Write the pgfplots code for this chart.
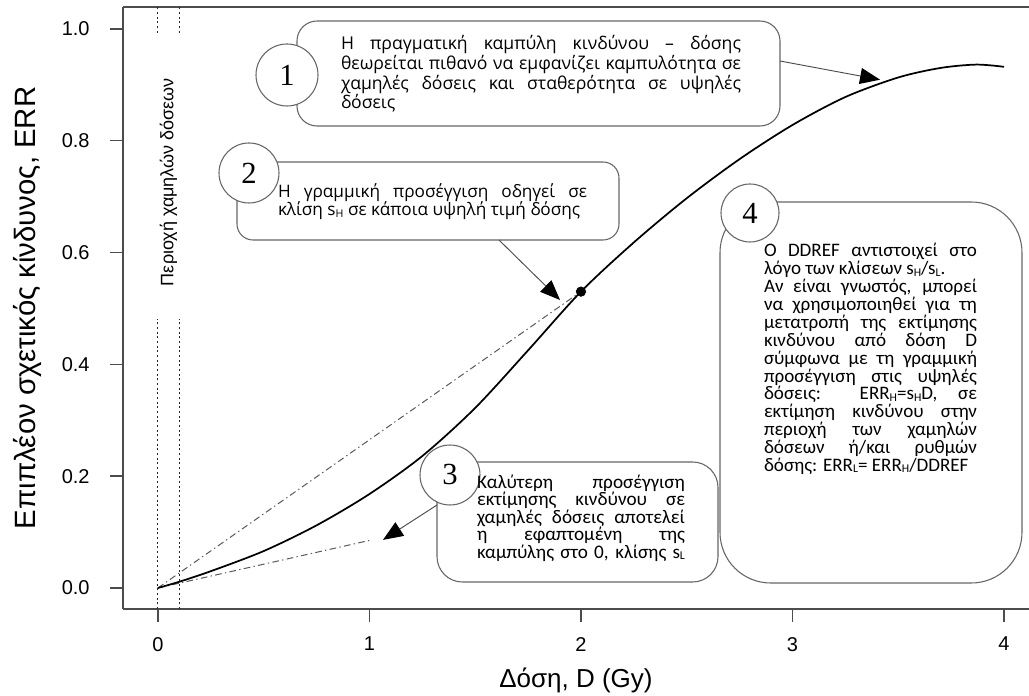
\documentclass[border=0pt]{standalone}
\usepackage{pgfplots}
\pgfplotsset{compat=1.18}
\usepackage{fontspec}
\setmainfont{Liberation Sans}
\newfontfamily\boxfont{Open Sans}
\newfontfamily\boxfontb{Carlito}
\newfontfamily\numfont{Liberation Serif}
\usetikzlibrary{arrows.meta}
\newcommand{\jl}[2]{\makebox[#1][s]{#2}}
\newcommand{\sbs}[1]{\raisebox{-0.15ex}{\scalebox{0.62}{#1}}}
\begin{document}
\begin{tikzpicture}
\path[use as bounding box] (-92.25pt,-65.25pt) rectangle (679.5pt,456.75pt);
\begin{axis}[
  scale only axis, width=679.5pt, height=451.5pt,
  xmin=-0.165, xmax=4.118, ymin=-0.0376, ymax=1.039,
  clip=false,
  axis x line*=bottom, axis y line*=left,
  axis line style={black!70, line width=1.2pt},
  xtick={0,1,2,3,4}, ytick={0,0.2,0.4,0.6,0.8,1.0},
  tick align=outside, major tick length=9.5pt,
  tick style={black!70, line width=1.1pt},
  /pgf/number format/assume math mode=true,
  ticklabel style={font=\fontsize{15}{18}\selectfont},
  xticklabel style={yshift=-8pt},
  yticklabel style={/pgf/number format/fixed, /pgf/number format/fixed zerofill, /pgf/number format/precision=1, xshift=-12pt},
  xlabel={Δόση, D (Gy)},
  ylabel={Επιπλέον σχετικός κίνδυνος, ERR},
  xlabel style={at={(axis description cs:0.5,-0.1179)}, anchor=center, font=\fontsize{19.5}{22}\selectfont},
  ylabel style={at={(axis description cs:-0.1049,0.5)}, anchor=center, font=\fontsize{22}{24}\selectfont},
]
\draw[black!70, line width=1.2pt] (rel axis cs:0,1) -- (rel axis cs:1,1);
% dotted boundaries of the low dose region
\addplot[black!85, line width=0.7pt, dash pattern=on 1.5pt off 2pt] coordinates {(0,0.993)(0,1.039)};
\addplot[black!85, line width=0.7pt, dash pattern=on 1.5pt off 2pt] coordinates {(0.1,0.993)(0.1,1.039)};
\addplot[black!85, line width=0.7pt, dash pattern=on 1.5pt off 2pt] coordinates {(0,-0.0376)(0,0.481)};
\addplot[black!85, line width=0.7pt, dash pattern=on 1.5pt off 2pt] coordinates {(0.1,-0.0376)(0.1,0.481)};
% chord and tangent
\addplot[black!65, line width=0.75pt, dash pattern=on 5pt off 2.5pt on 1pt off 2.5pt] coordinates {(0,0)(2,0.53)};
\addplot[black!65, line width=0.75pt, dash pattern=on 5pt off 2.5pt on 1pt off 2.5pt] coordinates {(0,0)(1.0,0.085)};
% true curve
\addplot[black, line width=1.3pt, smooth, tension=0.5] coordinates {
(0,0) (0.1,0.011) (0.25,0.03) (0.5,0.066) (0.75,0.112) (1.0,0.168) (1.25,0.236)
(1.5,0.322) (1.75,0.425) (2.0,0.53) (2.25,0.618) (2.5,0.697) (2.75,0.767)
(3.0,0.828) (3.25,0.878) (3.5,0.913) (3.7,0.930) (3.87,0.936) (4.0,0.932)};
\addplot[only marks, mark=*, mark size=3.6pt, black] coordinates {(2,0.53)};
\node[rotate=90, font=\fontsize{13.5}{15}\selectfont] at (axis cs:0.05,0.726) {Περιοχή χαμηλών δόσεων};
\coordinate (t1) at (axis cs:3.414,0.909);
\coordinate (t2) at (axis cs:1.901,0.515);
\coordinate (t3) at (axis cs:1.064,0.086);
\end{axis}
\begin{scope}[shift={(-92.25pt,456.75pt)}, x=0.75pt, y=-0.75pt,
  bx/.style={draw=black!60, line width=0.8pt, fill=white},
  ar/.style={draw=black!70, line width=0.7pt, -{Triangle[length=15pt,width=12pt,color=black]}}]
% box 1
\draw[bx, rounded corners=15pt] (297,21) rectangle (780,126);
\draw[bx] (287,75) circle[radius=31];
\node[font=\numfont\fontsize{23}{24}\selectfont] at (287,75) {1};
\node[inner sep=0pt, align=left, font=\boxfont\fontsize{13.2}{14.8}\selectfont] at (541,74) {%
\jl{300pt}{Η πραγματική καμπύλη κινδύνου – δόσης}\\
\jl{300pt}{θεωρείται πιθανό να εμφανίζει καμπυλότητα σε}\\
\jl{300pt}{χαμηλές δόσεις και σταθερότητα σε υψηλές}\\
\makebox[300pt][l]{δόσεις}};
\draw[ar] (780,61) -- (t1);
% box 2
\draw[bx, rounded corners=12pt] (237,162) rectangle (619,240);
\draw[bx] (249,173) circle[radius=30];
\node[font=\numfont\fontsize{23}{24}\selectfont] at (249,173) {2};
\node[inner sep=0pt, align=left, font=\boxfont\fontsize{12.9}{13.5}\selectfont] at (432.5,202) {%
\jl{231.75pt}{Η γραμμική προσέγγιση οδηγεί σε}\\
\makebox[231.75pt][l]{κλίση s\sbs{H} σε κάποια υψηλή τιμή δόσης}};
\draw[ar] (499,240) -- (t2);
% box 3
\draw[bx, rounded corners=19pt] (437,462) rectangle (718,582);
\draw[bx] (450,475) circle[radius=30];
\node[font=\numfont\fontsize{23}{24}\selectfont] at (450,475) {3};
\node[inner sep=0pt, align=left, font=\boxfontb\fontsize{14.4}{13.2}\selectfont] at (581,518) {%
\jl{156pt}{Καλύτερη προσέγγιση}\\
\jl{156pt}{εκτίμησης κινδύνου σε}\\
\jl{156pt}{χαμηλές δόσεις αποτελεί}\\
\jl{156pt}{η εφαπτομένη της}\\
\jl{156pt}{καμπύλης στο 0, κλίσης s\sbs{L}}};
\draw[ar] (437,505) -- (t3);
% box 4
\draw[bx, rounded corners=38pt] (720,202) rectangle (1022,583);
\draw[bx] (750,213) circle[radius=29];
\node[font=\numfont\fontsize{23}{24}\selectfont] at (750,213) {4};
\node[inner sep=0pt, align=left, font=\boxfontb\fontsize{14.3}{13.4}\selectfont] at (870.5,359) {%
\jl{159.75pt}{Ο DDREF αντιστοιχεί στο}\\
\makebox[159.75pt][l]{λόγο των κλίσεων s\sbs{H}/s\sbs{L}.}\\
\jl{159.75pt}{Αν είναι γνωστός, μπορεί}\\
\jl{159.75pt}{να χρησιμοποιηθεί για τη}\\
\jl{159.75pt}{μετατροπή της εκτίμησης}\\
\jl{159.75pt}{κινδύνου από δόση D}\\
\jl{159.75pt}{σύμφωνα με τη γραμμική}\\
\jl{159.75pt}{προσέγγιση στις υψηλές}\\
\jl{159.75pt}{δόσεις: ERR\sbs{H}=s\sbs{H}D, σε}\\
\jl{159.75pt}{εκτίμηση κινδύνου στην}\\
\jl{159.75pt}{περιοχή των χαμηλών}\\
\jl{159.75pt}{δόσεων ή/και ρυθμών}\\
\makebox[159.75pt][l]{δόσης: ERR\sbs{L}= ERR\sbs{H}/DDREF}};
\end{scope}
\end{tikzpicture}
\end{document}
